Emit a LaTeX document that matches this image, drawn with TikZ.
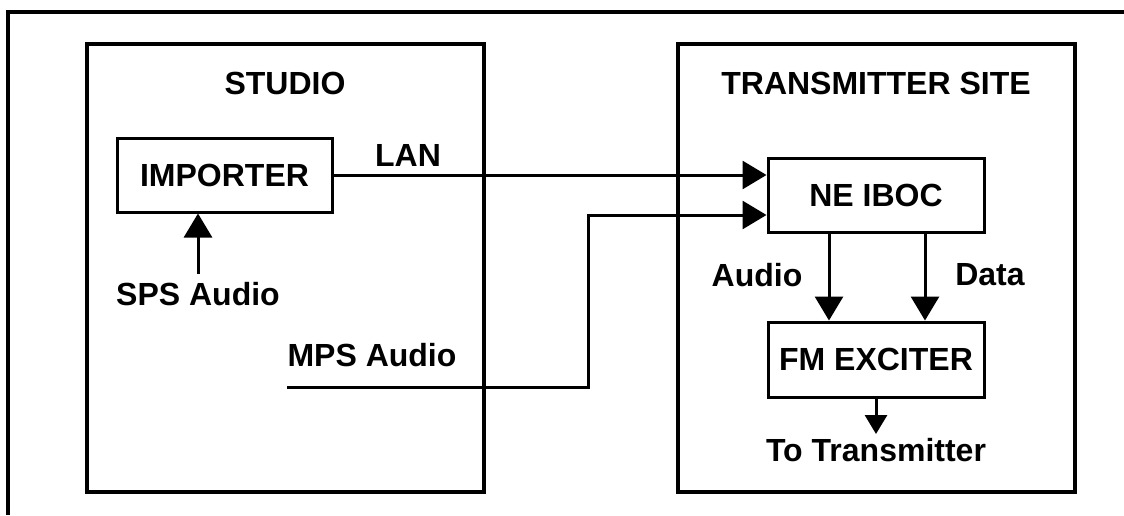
\documentclass[tikz,border=0pt]{standalone}
\usepackage{fontspec}
\setmainfont{Liberation Sans}
\usetikzlibrary{arrows.meta}
\begin{document}
\begin{tikzpicture}[x=1pt,y=-1pt,
  txt/.style={font=\fontsize{32}{36}\selectfont\bfseries, inner sep=0pt},
  area/.style={draw, line width=4pt, inner sep=0pt},
  unit/.style={draw, line width=3pt, inner sep=0pt, font=\fontsize{32}{36}\selectfont\bfseries},
  conn/.style={line width=3pt},
  arr/.style={line width=3pt, -{Triangle[length=24pt,width=28pt]}},
  arrs/.style={line width=3pt, -{Triangle[length=19pt,width=22pt]}}]
\useasboundingbox (0,0) rectangle (1124,515);
% outer frame (cut off at right and bottom)
\draw[line width=4pt] (1124,12) -- (8,12) -- (8,515);
% areas
\node[area, minimum width=397pt, minimum height=448pt] (studio) at (285.5,268) {};
\node[area, minimum width=397pt, minimum height=448pt] (site) at (876.5,268) {};
\node[txt] (studiolbl) at (285,83) {STUDIO};
\node[txt] (sitelbl) at (876,83) {TRANSMITTER SITE};
% units
\node[unit, minimum width=215pt, minimum height=74pt] (importer) at (224.5,175) {IMPORTER};
\node[unit, minimum width=216pt, minimum height=74pt] (iboc) at (876,195) {NE IBOC};
\node[unit, minimum width=216pt, minimum height=75pt] (fm) at (876,359.5) {FM EXCITER};
% labels
\node[txt] (sps) at (198,294) {SPS Audio};
\node[txt] (lan) at (408,155) {LAN};
\node[txt] (mps) at (372,355) {MPS Audio};
\node[txt] (audio) at (757,275) {Audio};
\node[txt] (data) at (990,275) {Data};
\node[txt] (totx) at (876,450) {To Transmitter};
% connector ends
\coordinate (spsin) at (198,274);
\coordinate (mpsin) at (287,387);
\coordinate (bend) at (588,387);
\coordinate (txout) at (876,434);
% connectors
\draw[arr] (spsin) -- (spsin |- importer.south);
\draw[arr] (importer.east) -- ([yshift=20pt]iboc.west);
\draw[arr] (mpsin) -- (bend) |- ([yshift=-20pt]iboc.west);
\draw[arr] ([xshift=-47pt]iboc.south) -- ([xshift=-47pt]fm.north);
\draw[arr] ([xshift=49pt]iboc.south) -- ([xshift=49pt]fm.north);
\draw[arrs] (fm.south) -- (txout);
\end{tikzpicture}
\end{document}
